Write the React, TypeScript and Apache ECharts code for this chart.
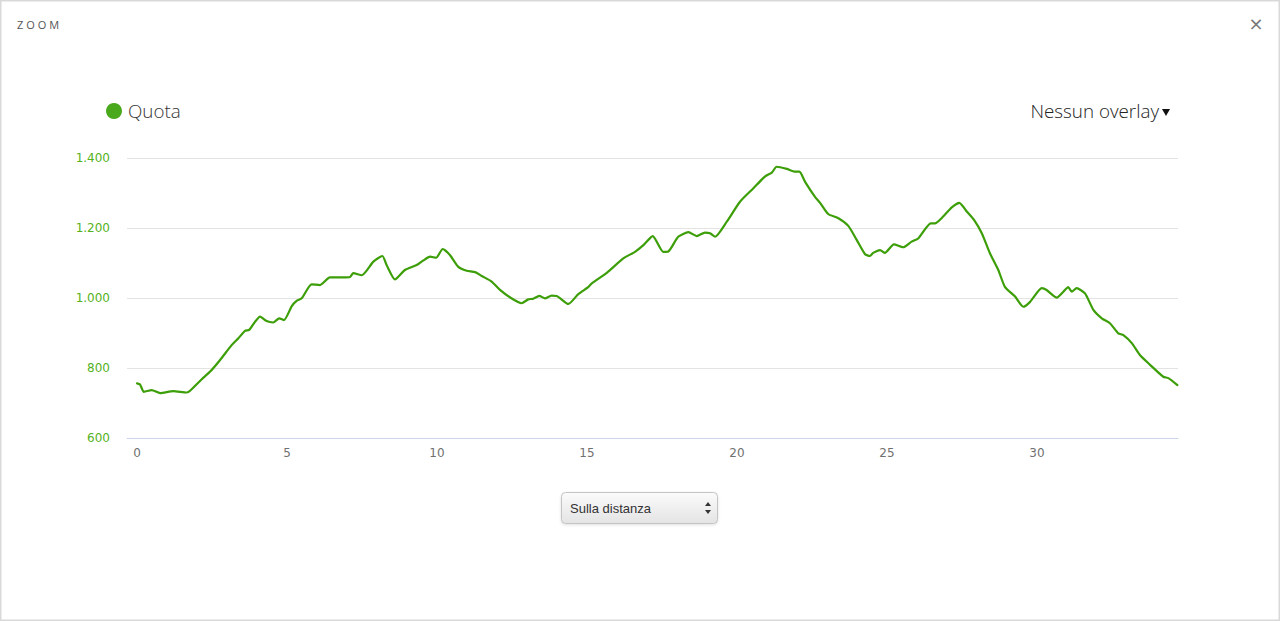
import React, { useEffect, useRef } from "react";
import * as echarts from "echarts";

const distanceKm = [
  0, 0.1, 0.23, 0.49, 0.77, 1.21, 1.66, 1.77, 2.16, 2.43, 2.77, 3.16, 3.38, 3.6, 3.74, 3.9, 4.1, 4.32, 4.54, 4.74, 4.9,
  5.16, 5.32, 5.49, 5.82, 6.1, 6.43, 6.88, 7.1, 7.21, 7.49, 7.88, 8.18, 8.32, 8.6, 8.93, 9.32, 9.54, 9.77, 9.97,
  10.19, 10.43, 10.71, 10.99, 11.27, 11.49, 11.82, 12.1, 12.43, 12.82, 13.04, 13.21, 13.41, 13.6, 13.82, 13.99,
  14.38, 14.71, 15.04, 15.16, 15.66, 16.21, 16.6, 16.88, 17.19, 17.54, 17.71, 18.04, 18.38, 18.66, 18.93, 19.1,
  19.27, 19.66, 20.1, 20.54, 20.93, 21.16, 21.32, 21.66, 21.93, 22.08, 22.27, 22.6, 22.77, 23.04, 23.38, 23.71,
  23.99, 24.27, 24.43, 24.54, 24.77, 24.93, 25.23, 25.54, 25.82, 26.04, 26.46, 26.6, 26.82, 27.16, 27.41, 27.66,
  27.9, 28.16, 28.43, 28.71, 28.93, 29.27, 29.54, 29.77, 30.16, 30.32, 30.66, 30.88, 31.04, 31.16, 31.32, 31.6,
  31.88, 32.16, 32.43, 32.71, 32.88, 33.16, 33.43, 33.77, 34.21, 34.38, 34.68,
];

const altitudeM = [
  756, 753, 732, 737, 728, 734, 730, 735, 768, 789, 823, 866, 885, 906, 909, 928, 947, 934, 930, 942, 937,
  977, 992, 999, 1039, 1037, 1059, 1059, 1060, 1071, 1065, 1104, 1120, 1094, 1053, 1080, 1094, 1107, 1118, 1115,
  1140, 1123, 1089, 1078, 1074, 1063, 1047, 1023, 1002, 985, 996, 998, 1006, 999, 1007, 1006,
  983, 1011, 1031, 1042, 1072, 1113, 1132, 1151, 1177, 1132, 1133, 1175, 1188, 1177, 1187, 1185,
  1175, 1218, 1275, 1313, 1347, 1358, 1375, 1369, 1361, 1361, 1332, 1289, 1272, 1240, 1228, 1206,
  1166, 1125, 1120, 1129, 1137, 1129, 1153, 1145, 1161, 1170, 1213, 1213, 1228, 1259, 1272, 1247,
  1223, 1185, 1128, 1080, 1032, 1004, 975, 989, 1028, 1023, 1001, 1018, 1031, 1018, 1028, 1013,
  966, 942, 928, 899, 894, 871, 837, 809, 775, 771, 751,
];

const xTickValues = [0, 5, 10, 15, 20, 25, 30];
const yTickValues = [600, 800, 1000, 1200, 1400];

const seriesName = "Quota";
const overlayLabel = "Nessun overlay";
const selectLabel = "Sulla distanza";
const headerLabel = "ZOOM";

const LINE_COLOR = "#3c9e08";
const LABEL_GREEN = "#55b21c";

function fmtThousands(v: number): string {
  return String(Math.round(v)).replace(/\B(?=(\d{3})+(?!\d))/g, ".");
}

export default function App() {
  const ref = useRef<HTMLDivElement>(null);

  useEffect(() => {
    if (!ref.current) return;
    const chart = echarts.init(ref.current, undefined, { renderer: "svg" });
    const data = distanceKm.map((d, i) => [d, altitudeM[i]]);

    chart.setOption({
      animation: false,
      backgroundColor: "#ffffff",
      grid: { left: 127, right: 102, top: 158, bottom: 183, containLabel: false },
      xAxis: {
        type: "value",
        min: -1 / 3,
        max: 34.7,
        axisLine: { show: true, lineStyle: { color: "#ccd6eb", width: 1 } },
        axisTick: { show: false },
        splitLine: { show: false },
        axisLabel: {
          customValues: xTickValues,
          color: "#707070",
          fontFamily: "DejaVu Sans",
          fontSize: 12,
          margin: 9,
          formatter: (v: number) => String(v),
        },
      },
      yAxis: {
        type: "value",
        min: yTickValues[0],
        max: yTickValues[yTickValues.length - 1],
        interval: 200,
        axisLine: { show: false },
        axisTick: { show: false },
        splitLine: { show: true, lineStyle: { color: "#e3e3e3", width: 1 } },
        axisLabel: {
          color: LABEL_GREEN,
          fontFamily: "DejaVu Sans",
          fontSize: 12,
          margin: 17,
          formatter: (v: number) => fmtThousands(v),
        },
      },
      series: [
        {
          name: seriesName,
          type: "line",
          data,
          showSymbol: false,
          symbol: "none",
          smooth: 0.2,
          lineStyle: { color: LINE_COLOR, width: 2.2, join: "round", cap: "round" },
          itemStyle: { color: LINE_COLOR },
          z: 3,
        },
      ],
      graphic: [
        {
          type: "rect",
          shape: { x: 0.5, y: 0.5, width: 1279, height: 620 },
          style: { fill: "none", stroke: "#d9d9d9", lineWidth: 2 },
          silent: true,
        },
        {
          type: "text",
          x: 17,
          y: 24,
          style: {
            text: headerLabel.split("").join("\u200A\u2009"),
            fill: "#555555",
            font: "11px 'Open Sans'",
            verticalAlign: "middle",
          },
        },
        {
          type: "text",
          x: 1256,
          y: 23,
          style: {
            text: "\u00D7",
            fill: "#777777",
            font: "18px 'DejaVu Sans'",
            align: "center",
            verticalAlign: "middle",
          },
        },
        {
          type: "circle",
          shape: { cx: 114, cy: 111, r: 8 },
          style: { fill: "#4aa81c" },
        },
        {
          type: "text",
          x: 128,
          y: 111,
          style: {
            text: seriesName,
            fill: "#333333",
            font: "300 18.8px 'Open Sans'",
            verticalAlign: "middle",
          },
        },
        {
          type: "text",
          x: 1159,
          y: 111,
          style: {
            text: overlayLabel,
            fill: "#222222",
            font: "300 18.8px 'Open Sans'",
            align: "right",
            verticalAlign: "middle",
          },
        },
        {
          type: "polygon",
          shape: { points: [[1162, 109], [1170, 109], [1166, 116]] },
          style: { fill: "#111111" },
        },
        {
          type: "rect",
          shape: { x: 561.5, y: 492.5, width: 156, height: 31, r: 4 },
          style: {
            fill: new echarts.graphic.LinearGradient(0, 0, 0, 1, [
              { offset: 0, color: "#fbfbfb" },
              { offset: 1, color: "#e4e4e4" },
            ]),
            stroke: "#c4c4c4",
            lineWidth: 1,
            shadowBlur: 3,
            shadowColor: "rgba(0,0,0,0.12)",
            shadowOffsetY: 1,
          },
        },
        {
          type: "text",
          x: 570,
          y: 508,
          style: {
            text: selectLabel,
            fill: "#333333",
            font: "13px 'Liberation Sans'",
            verticalAlign: "middle",
          },
        },
        {
          type: "polygon",
          shape: { points: [[705, 506], [711, 506], [708, 502]] },
          style: { fill: "#333333" },
        },
        {
          type: "polygon",
          shape: { points: [[705, 510], [711, 510], [708, 514]] },
          style: { fill: "#333333" },
        },
      ],
    });

    return () => chart.dispose();
  }, []);

  return (
    <div
      ref={ref}
      style={{ position: "fixed", left: 0, top: 0, width: 1280, height: 621, background: "#fff" }}
    />
  );
}
